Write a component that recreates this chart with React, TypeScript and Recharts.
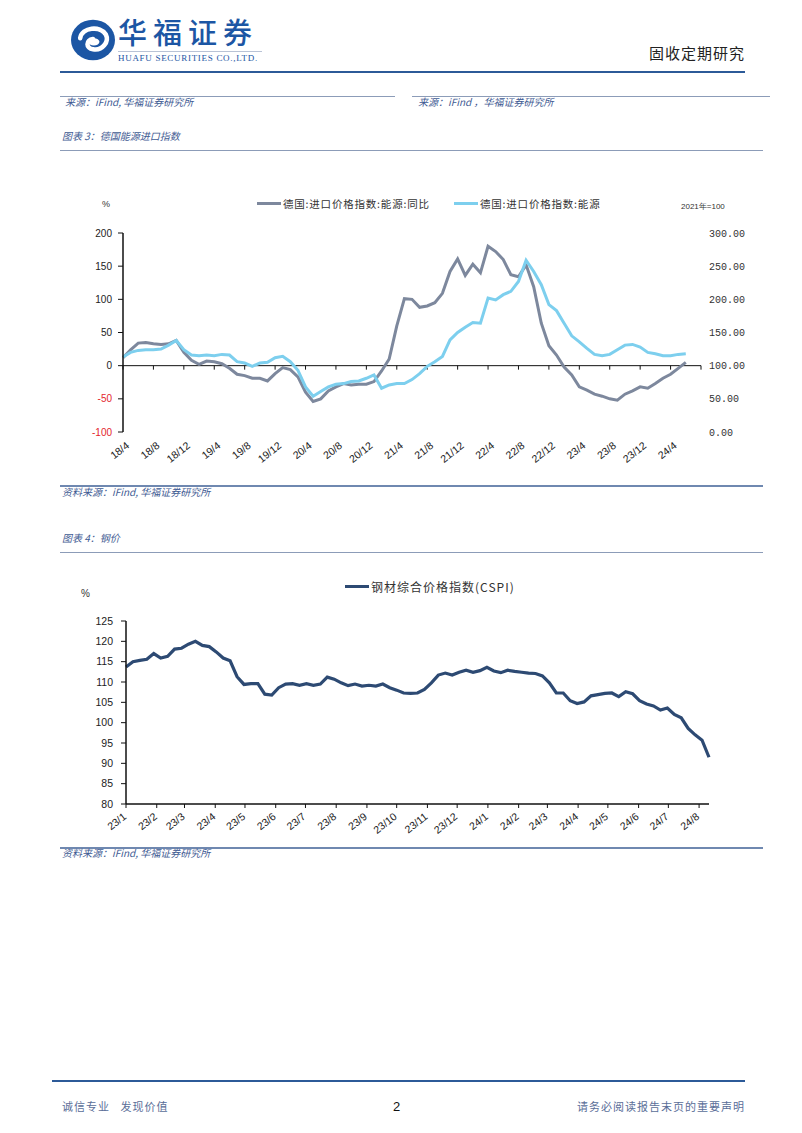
import React from "react";
import { LineChart, Line, XAxis, YAxis, ReferenceLine } from "recharts";

// 图表3 德国能源进口指数：月度，18/4 起
const energyFirstYear = 18;
const energyFirstMonth = 4;
const energyAxisMonths = 76; // 轴到 24/8
const energyYoY = [
  12, 24, 34, 35, 33, 32, 33, 38, 20, 8, 2, 7, 6, 3, -4, -13, -15, -19, -19,
  -23, -12, -3, -6, -17, -40, -54, -50, -38, -32, -27, -29, -28, -28, -24, -8,
  10, 60, 101, 100, 88, 90, 95, 109, 142, 161, 136, 153, 140, 180, 172, 160,
  137, 134, 152, 119, 64, 30, 16, -2, -14, -32, -37, -43, -46, -50, -52, -43,
  -38, -32, -34, -27, -19, -13, -4, 5,
];
const energyIndex = [
  113, 120, 123, 124, 124, 125, 131, 138, 124, 116, 115, 116, 115, 117, 116,
  106, 104, 99, 104, 105, 112, 114, 106, 93, 68, 54, 61, 68, 72, 73, 76, 77, 81,
  86, 66, 71, 73, 73, 79, 88, 99, 106, 114, 139, 150, 158, 165, 164, 202, 199,
  207, 212, 227, 259, 242, 222, 192, 183, 164, 145, 136, 126, 117, 115, 117,
  124, 131, 132, 128, 120, 118, 115, 115, 117, 118,
];
const yoyTicks = [-100, -50, 0, 50, 100, 150, 200];
const indexTicks = [0, 50, 100, 150, 200, 250, 300];

// 图表4 钢材综合价格指数：周度，23/1 起
const cspiStart = new Date(2023, 0, 1);
const cspiValues = [
  113.7, 115.0, 115.3, 115.6, 117.0, 115.9, 116.3, 118.1, 118.3, 119.3, 120.0,
  119.0, 118.7, 117.4, 115.9, 115.2, 111.3, 109.4, 109.6, 109.6, 107.0, 106.8,
  108.6, 109.5, 109.6, 109.2, 109.6, 109.2, 109.5, 111.2, 110.7, 109.8, 109.1,
  109.5, 109.0, 109.2, 109.0, 109.5, 108.6, 108.0, 107.3, 107.2, 107.3, 108.2,
  109.8, 111.7, 112.2, 111.7, 112.4, 112.9, 112.4, 112.8, 113.6, 112.7, 112.3,
  112.9, 112.6, 112.4, 112.2, 112.1, 111.5, 109.8, 107.3, 107.3, 105.4, 104.7,
  105.1, 106.6, 106.9, 107.2, 107.3, 106.4, 107.6, 107.1, 105.4, 104.6, 104.1,
  103.1, 103.6, 102.0, 101.2, 98.6, 97.0, 95.7, 91.5,
];
const cspiTicks = [80, 85, 90, 95, 100, 105, 110, 115, 120, 125];
const cspiMonthCount = 20; // 23/1 .. 24/8

const GRAY = "#7D889D";
const SKY = "#7DCFEE";
const NAVY = "#2D4A73";
const CAPTION = "#3F5B93";
const CJK = '"Noto Sans CJK SC", "Liberation Sans", sans-serif';
const LATIN = '"Liberation Sans", Arial, sans-serif';

const energyLabel = (i: number) => {
  const t = energyFirstMonth - 1 + i;
  return `${energyFirstYear + Math.floor(t / 12)}/${(t % 12) + 1}`;
};

const energyData = energyYoY.map((v, i) => ({
  m: i,
  yoy: v,
  idx: energyIndex[i],
}));

const energyTickMarks: number[] = [];
for (let i = 0; i <= energyAxisMonths; i += 4) energyTickMarks.push(i);
const energyLabelTicks = energyTickMarks.filter((t) => t < energyAxisMonths);

const DAY = 86400000;
const cspiData = cspiValues.map((v, i) => ({ day: i * 7, cspi: v }));
const cspiMonthTicks: number[] = [];
const cspiMonthLabels: Record<number, string> = {};
for (let k = 0; k < cspiMonthCount; k++) {
  const d = new Date(2023, k, 1);
  const day = Math.round((d.getTime() - cspiStart.getTime()) / DAY);
  cspiMonthTicks.push(day);
  cspiMonthLabels[day] = `${d.getFullYear() % 100}/${d.getMonth() + 1}`;
}
const cspiLastDay = (cspiValues.length - 1) * 7;

const SlantTick = (props: any) => {
  const { x, y, payload, format, dx, dy } = props;
  return (
    <text
      transform={`translate(${x + dx},${y + dy}) rotate(-38)`}
      textAnchor="end"
      fontSize={10.5}
      fontFamily={LATIN}
      fill="#222"
    >
      {format(payload.value)}
    </text>
  );
};

const YoYTick = (props: any) => {
  const { x, y, payload } = props;
  return (
    <text
      x={x}
      y={y}
      dy={3.5}
      textAnchor="end"
      fontSize={10}
      fontFamily={LATIN}
      fill={payload.value < 0 ? "#E3262D" : "#222"}
    >
      {payload.value}
    </text>
  );
};

const Txt = ({
  x,
  y,
  size = 11,
  color = "#222",
  italic = false,
  right = false,
  font = CJK,
  spacing = 0,
  weight = 400,
  children,
}: any) => (
  <div
    style={{
      position: "absolute",
      top: y - size / 2,
      ...(right ? { right: 802 - x } : { left: x }),
      fontSize: size,
      lineHeight: `${size}px`,
      color,
      fontStyle: italic ? "italic" : "normal",
      fontFamily: font,
      letterSpacing: spacing,
      fontWeight: weight,
      whiteSpace: "nowrap",
    }}
  >
    {children}
  </div>
);

const HLine = ({ x1, x2, y, h = 1, color = "#8C9CB8" }: any) => (
  <div
    style={{
      position: "absolute",
      left: x1,
      top: y - h / 2,
      width: x2 - x1,
      height: h,
      background: color,
    }}
  />
);

const LegendItem = ({ x, y, color, label, size, spacing }: any) => (
  <div
    style={{
      position: "absolute",
      left: x,
      top: y - 8,
      height: 16,
      display: "flex",
      alignItems: "center",
      fontFamily: CJK,
      fontSize: size,
      letterSpacing: spacing,
      color: "#333",
      whiteSpace: "nowrap",
    }}
  >
    <span
      style={{
        display: "inline-block",
        width: 24,
        height: 3,
        background: color,
        marginRight: 2,
      }}
    />
    {label}
  </div>
);

const Logo = () => (
  <svg
    width={50}
    height={44}
    style={{ position: "absolute", left: 68, top: 18 }}
    viewBox="0 0 52 48"
  >
    <ellipse cx={26} cy={24} rx={24} ry={22} fill="#1C56A4" />
    <path
      d="M12 22 C14 10, 34 8, 40 18 C44 26, 36 36, 26 34 C18 33, 18 24, 26 23"
      fill="none"
      stroke="#fff"
      strokeWidth={5}
      strokeLinecap="round"
    />
    <ellipse cx={27} cy={26} rx={6} ry={4} fill="#fff" />
  </svg>
);

export default function App() {
  return (
    <div
      style={{
        position: "absolute",
        left: 0,
        top: 0,
        width: 802,
        height: 1133,
        background: "#fff",
        overflow: "hidden",
      }}
    >
      {/* 页眉 */}
      <Logo />
      <Txt x={118} y={31} size={29} color="#1C56A4" spacing={6} weight={500}>
        华福证券
      </Txt>
      <HLine x1={118} x2={262} y={51} color="#B9C3D6" />
      <Txt
        x={118}
        y={58}
        size={9}
        color="#1C56A4"
        font='"Liberation Serif", serif'
        spacing={0.7}
      >
        HUAFU SECURITIES CO.,LTD.
      </Txt>
      <Txt x={745} y={52} size={15} right spacing={1} color="#222">
        固收定期研究
      </Txt>
      <HLine x1={60} x2={745} y={72} h={2} color="#2C5A98" />

      <HLine x1={60} x2={395} y={96} />
      <HLine x1={412} x2={770} y={96} />
      <Txt x={65} y={102} size={10} italic color={CAPTION}>
        来源：iFind, 华福证券研究所
      </Txt>
      <Txt x={418} y={102} size={10} italic color={CAPTION}>
        来源：iFind ，华福证券研究所
      </Txt>

      {/* 图表3 */}
      <Txt x={62} y={136} size={10} italic color={CAPTION}>
        图表 3：德国能源进口指数
      </Txt>
      <HLine x1={60} x2={763} y={150} />
      <Txt x={102} y={204} size={9} font={LATIN} color="#333">
        %
      </Txt>
      <LegendItem
        x={257}
        y={203}
        color={GRAY}
        label="德国:进口价格指数:能源:同比"
        size={10.5}
        spacing={0.8}
      />
      <LegendItem
        x={454}
        y={203}
        color={SKY}
        label="德国:进口价格指数:能源"
        size={10.5}
        spacing={0.8}
      />
      <Txt x={681} y={207} size={8} font={LATIN} color="#333">
        2021年=100
      </Txt>
      <div style={{ position: "absolute", left: 60, top: 223 }}>
        <LineChart
          width={701}
          height={249}
          data={energyData}
          margin={{ top: 10, right: 0, bottom: 0, left: 0 }}
        >
          <XAxis
            type="number"
            dataKey="m"
            domain={[0, energyAxisMonths]}
            ticks={energyLabelTicks}
            interval={0}
            axisLine={false}
            tickLine={false}
            tickSize={0}
            tickMargin={0}
            height={40}
            tick={<SlantTick format={energyLabel} dx={7} dy={15} />}
          />
          <YAxis
            yAxisId="left"
            domain={[-100, 200]}
            ticks={yoyTicks}
            interval={0}
            width={63}
            tickSize={5}
            tickMargin={6}
            axisLine={{ stroke: "#111", strokeWidth: 1.5 }}
            tickLine={{ stroke: "#111" }}
            tick={<YoYTick />}
          />
          <YAxis
            yAxisId="right"
            orientation="right"
            domain={[0, 300]}
            ticks={indexTicks}
            interval={0}
            width={60}
            tickSize={0}
            tickMargin={8}
            axisLine={false}
            tickLine={false}
            tickFormatter={(v: number) => v.toFixed(2)}
            tick={{
              fontSize: 10,
              fontFamily: '"Liberation Mono", monospace',
              fill: "#333",
              textAnchor: "start",
            }}
          />
          <ReferenceLine yAxisId="left" y={0} stroke="#111" strokeWidth={1} />
          {energyTickMarks.map((t) => (
            <ReferenceLine
              key={t}
              yAxisId="left"
              segment={[
                { x: t, y: 0 },
                { x: t, y: -6 },
              ]}
              stroke="#111"
            />
          ))}
          <Line
            yAxisId="left"
            dataKey="yoy"
            stroke={GRAY}
            strokeWidth={3}
            dot={false}
            isAnimationActive={false}
          />
          <Line
            yAxisId="right"
            dataKey="idx"
            stroke={SKY}
            strokeWidth={3}
            dot={false}
            isAnimationActive={false}
          />
        </LineChart>
      </div>
      <HLine x1={60} x2={763} y={486} h={2.5} color="#6F88B0" />
      <Txt x={62} y={492} size={10} italic color={CAPTION}>
        资料来源：iFind, 华福证券研究所
      </Txt>

      {/* 图表4 */}
      <Txt x={62} y={538} size={10} italic color={CAPTION}>
        图表 4：钢价
      </Txt>
      <HLine x1={60} x2={763} y={552} />
      <LegendItem
        x={345}
        y={586}
        color={NAVY}
        label="钢材综合价格指数(CSPI)"
        size={12}
        spacing={1}
      />
      <Txt x={81} y={594} size={10} font={LATIN} color="#333">
        %
      </Txt>
      <div style={{ position: "absolute", left: 60, top: 611 }}>
        <LineChart
          width={659}
          height={233}
          data={cspiData}
          margin={{ top: 10, right: 10, bottom: 0, left: 0 }}
        >
          <XAxis
            type="number"
            dataKey="day"
            domain={[0, cspiLastDay]}
            ticks={cspiMonthTicks}
            interval={0}
            height={40}
            tickSize={4}
            tickMargin={0}
            axisLine={{ stroke: "#111", strokeWidth: 1.5 }}
            tickLine={{ stroke: "#111" }}
            tick={
              <SlantTick
                format={(d: number) => cspiMonthLabels[d]}
                dx={1}
                dy={10}
              />
            }
          />
          <YAxis
            domain={[80, 125]}
            ticks={cspiTicks}
            interval={0}
            width={66}
            tickSize={5}
            tickMargin={8}
            axisLine={{ stroke: "#111", strokeWidth: 1.5 }}
            tickLine={{ stroke: "#111" }}
            tick={{ fontSize: 10.5, fontFamily: LATIN, fill: "#222" }}
          />
          <Line
            dataKey="cspi"
            stroke={NAVY}
            strokeWidth={3.2}
            dot={false}
            isAnimationActive={false}
          />
        </LineChart>
      </div>
      <HLine x1={60} x2={763} y={848} h={2} color="#6F88B0" />
      <Txt x={62} y={853} size={10} italic color={CAPTION}>
        资料来源：iFind, 华福证券研究所
      </Txt>

      {/* 页脚 */}
      <HLine x1={52} x2={745} y={1081} h={2} color="#2C5A98" />
      <Txt x={62} y={1106} size={11} color="#5A6E98" spacing={1}>
        诚信专业&nbsp;&nbsp;&nbsp;发现价值
      </Txt>
      <Txt x={393} y={1106} size={13} font={LATIN} color="#111">
        2
      </Txt>
      <Txt x={745} y={1106} size={11} right color="#5A6E98" spacing={1}>
        请务必阅读报告末页的重要声明
      </Txt>
    </div>
  );
}
